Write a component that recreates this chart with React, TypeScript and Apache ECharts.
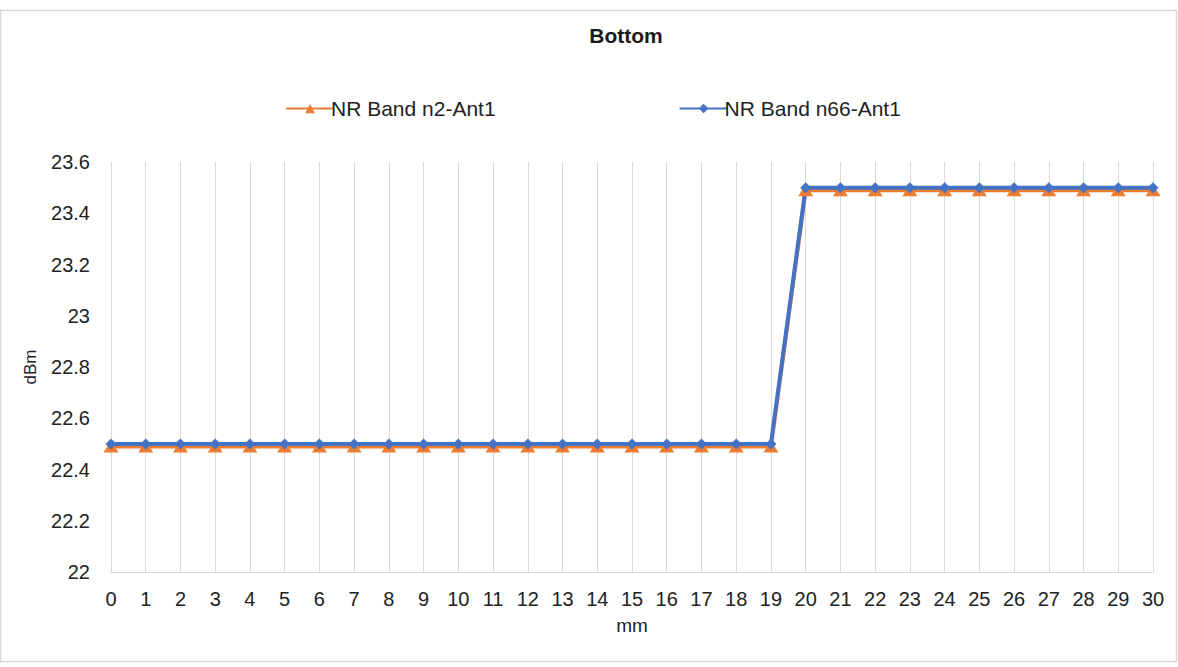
import React, { useEffect, useRef } from "react";
import * as echarts from "echarts";

const categories = Array.from({ length: 31 }, (_, i) => String(i));
const n2Values = [
  22.49, 22.49, 22.49, 22.49, 22.49, 22.49, 22.49, 22.49, 22.49, 22.49,
  22.49, 22.49, 22.49, 22.49, 22.49, 22.49, 22.49, 22.49, 22.49, 22.49,
  23.49, 23.49, 23.49, 23.49, 23.49, 23.49, 23.49, 23.49, 23.49, 23.49, 23.49,
];
const n66Values = [
  22.5, 22.5, 22.5, 22.5, 22.5, 22.5, 22.5, 22.5, 22.5, 22.5,
  22.5, 22.5, 22.5, 22.5, 22.5, 22.5, 22.5, 22.5, 22.5, 22.5,
  23.5, 23.5, 23.5, 23.5, 23.5, 23.5, 23.5, 23.5, 23.5, 23.5, 23.5,
];
const seriesNames = ["NR Band n2-Ant1", "NR Band n66-Ant1"];

export default function App() {
  const ref = useRef<HTMLDivElement>(null);
  useEffect(() => {
    if (!ref.current) return;
    const chart = echarts.init(ref.current, null, { renderer: "svg" });
    const font = "Liberation Sans, Arial, sans-serif";
    chart.setOption({
      animation: false,
      backgroundColor: "#ffffff",
      textStyle: { fontFamily: font },
      title: {
        text: "Bottom",
        left: 621,
        top: 20,
        textAlign: "center",
        textStyle: { fontSize: 21, fontWeight: "bold", color: "#1a1a1a", fontFamily: font },
      },
      legend: {
        top: 93,
        left: 280,
        itemGap: 183,
        itemWidth: 48,
        itemHeight: 12,
        textStyle: { fontSize: 21, color: "#222", fontFamily: font, padding: [0, 0, 0, -8] },
        data: seriesNames,
      },
      graphic: [
        {
          type: "rect",
          shape: { x: 0.5, y: 10.5, width: 1176, height: 651 },
          style: { fill: "none", stroke: "#d9d9d9", lineWidth: 1.5 },
          silent: true,
        },
      ],
      grid: { left: 111, right: 25, top: 162, bottom: 95 },
      xAxis: {
        type: "category",
        data: categories,
        boundaryGap: false,
        name: "mm",
        nameLocation: "middle",
        nameGap: 44,
        nameTextStyle: { fontSize: 19, color: "#222" },
        axisLine: { show: true, lineStyle: { color: "#d9d9d9" } },
        axisTick: { show: false },
        axisLabel: { fontSize: 20, color: "#222", margin: 17, interval: 0 },
        splitLine: { show: true, interval: 0, lineStyle: { color: "#d9d9d9", width: 1 } },
      },
      yAxis: {
        type: "value",
        min: 22,
        max: 23.6,
        interval: 0.2,
        name: "dBm",
        nameLocation: "middle",
        nameGap: 72,
        nameTextStyle: { fontSize: 17, color: "#222" },
        axisLine: { show: false },
        axisTick: { show: false },
        axisLabel: { fontSize: 20, color: "#222", margin: 21 },
        splitLine: { show: false },
      },
      series: [
        {
          name: seriesNames[0],
          type: "line",
          data: n2Values,
          symbol: "triangle",
          symbolSize: [15, 12],
          lineStyle: { color: "#ED7D31", width: 4 },
          itemStyle: { color: "#ED7D31" },
        },
        {
          name: seriesNames[1],
          type: "line",
          data: n66Values,
          symbol: "diamond",
          symbolSize: 11,
          lineStyle: { color: "#4472C4", width: 4 },
          itemStyle: { color: "#4472C4" },
        },
      ],
    });
    return () => chart.dispose();
  }, []);
  return (
    <div
      ref={ref}
      style={{ position: "fixed", left: 0, top: 0, width: 1178, height: 667 }}
    />
  );
}
